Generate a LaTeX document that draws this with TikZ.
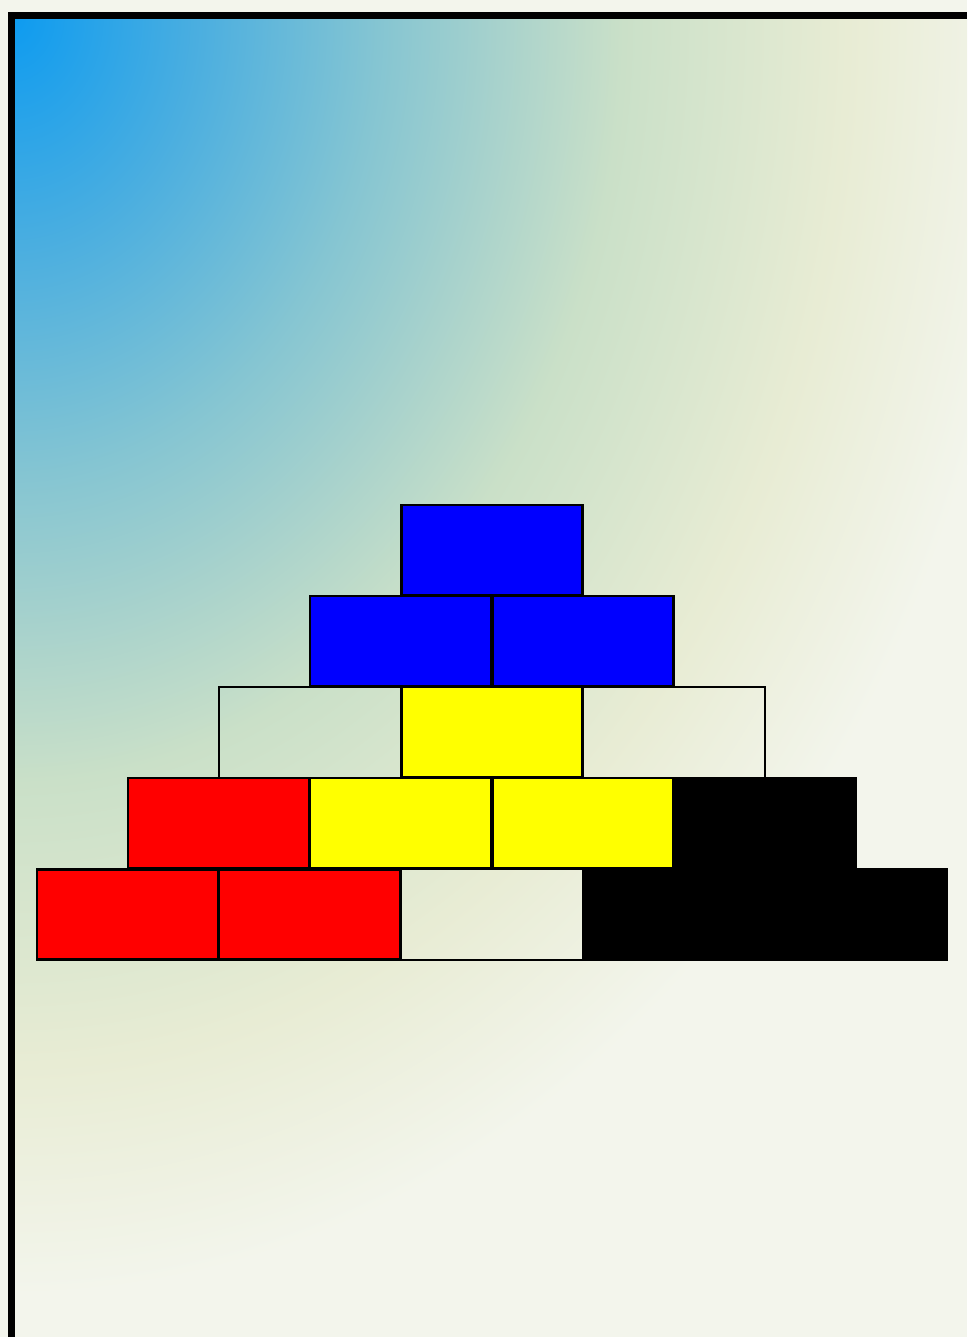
\documentclass[tikz,border=0pt]{standalone}
\usepackage{tikz}
\usetikzlibrary{positioning}

\definecolor{skyblue}{HTML}{0D9BF0}
\definecolor{sky1}{HTML}{4AAEE0}
\definecolor{sky2}{HTML}{85C5D2}
\definecolor{sky3}{HTML}{A8D2CC}
\definecolor{sky4}{HTML}{CAE0C8}
\definecolor{sky5}{HTML}{E8ECD4}
\definecolor{paper}{HTML}{F3F5EC}
\definecolor{brickblue}{RGB}{0,0,255}
\definecolor{brickyellow}{RGB}{255,255,0}
\definecolor{brickred}{RGB}{255,0,0}
\pgfdeclareradialshading{skyfade}{\pgfpoint{0bp}{0bp}}{%
  color(0bp)=(skyblue);
  color(4.5bp)=(sky1);
  color(9bp)=(sky2);
  color(12bp)=(sky3);
  color(15bp)=(sky4);
  color(20.5bp)=(sky5);
  color(25bp)=(paper);
  color(50bp)=(paper)}

\begin{document}
\begin{tikzpicture}[x=0.02cm,y=-0.02cm,
  brick/.style={draw,line width=1.7pt,minimum width=3.64cm,minimum height=1.82cm,
    inner sep=0pt,outer sep=0pt,anchor=north west},
  hole/.style={brick,line width=1.2pt}]
  \useasboundingbox[fill=paper] (0,0) rectangle (967,1337);
  \coordinate (corner) at (11.5,15.5);
  % gradient sky behind the frame
  \begin{scope}
    \clip (11.5,15.5) rectangle (967,1337);
    \shade[shading=skyfade] (corner) ellipse [x radius=1020, y radius=1280];
  \end{scope}
  \draw[line width=4pt] (corner |- 0,1337) -- (corner) -- (corner -| 967,0);
  % top row
  \node[brick,fill=brickblue] (b11) at (401,505) {};
  % second row
  \node[brick,fill=brickblue] (b21) at (310,596) {};
  \node[brick,fill=brickblue] (b22) at (492,596) {};
  % third row
  \node[hole] (b31) at (219,687) {};
  \node[brick,fill=brickyellow] (b32) at (401,687) {};
  \node[hole] (b33) at (583,687) {};
  % fourth row
  \node[brick,fill=brickred] (b41) at (128,778) {};
  \node[brick,fill=brickyellow] (b42) at (310,778) {};
  \node[brick,fill=brickyellow] (b43) at (492,778) {};
  \node[brick,fill=black] (b44) at (674,778) {};
  % bottom row
  \node[brick,fill=brickred] (b51) at (37,869) {};
  \node[brick,fill=brickred] (b52) at (219,869) {};
  \node[hole] (b53) at (401,869) {};
  \node[brick,fill=black] (b54) at (583,869) {};
  \node[brick,fill=black] (b55) at (765,869) {};
\end{tikzpicture}
\end{document}
